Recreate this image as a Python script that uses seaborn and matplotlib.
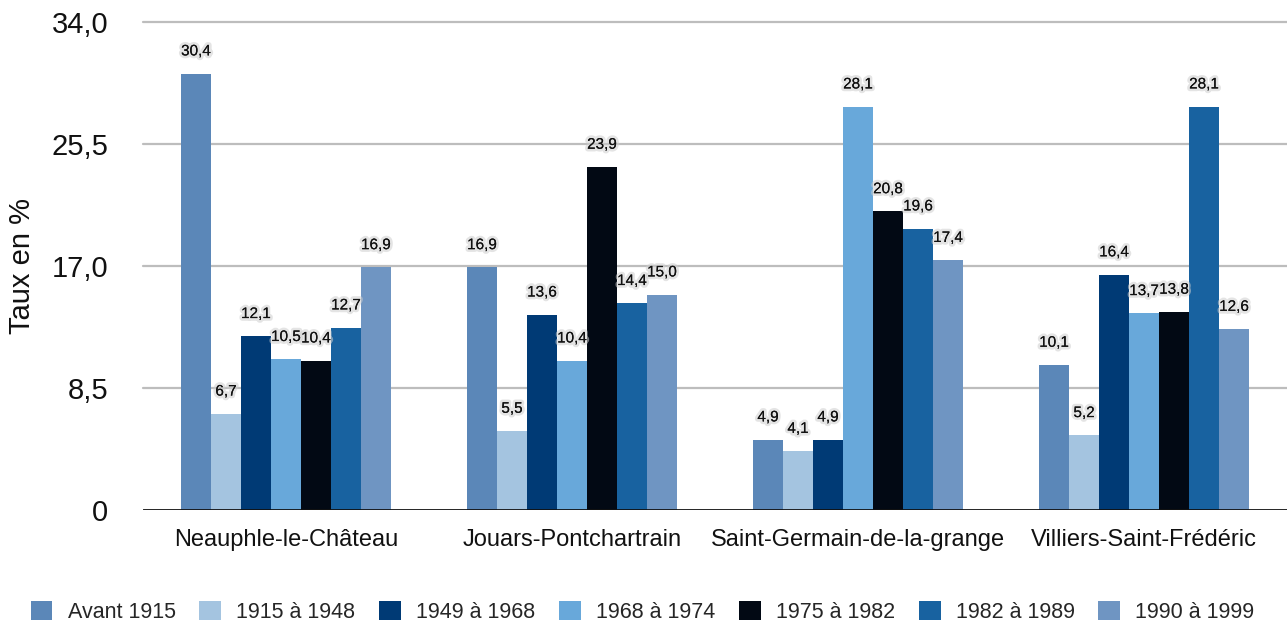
import matplotlib
matplotlib.use("Agg")
import matplotlib.pyplot as plt
import matplotlib.patheffects as pe
import seaborn as sns
import pandas as pd

communes = ["Neauphle-le-Château", "Jouars-Pontchartrain",
            "Saint-Germain-de-la-grange", "Villiers-Saint-Frédéric"]
periodes = ["Avant 1915", "1915 à 1948", "1949 à 1968", "1968 à 1974",
            "1975 à 1982", "1982 à 1989", "1990 à 1999"]
couleurs = ["#5B87B8", "#A4C4E0", "#003A75", "#68A8DA",
            "#020914", "#1862A0", "#6F95C2"]

neauphle = [30.4, 6.7, 12.1, 10.5, 10.4, 12.7, 16.9]
jouars = [16.9, 5.5, 13.6, 10.4, 23.9, 14.4, 15.0]
saint_germain = [4.9, 4.1, 4.9, 28.1, 20.8, 19.6, 17.4]
villiers = [10.1, 5.2, 16.4, 13.7, 13.8, 28.1, 12.6]

y_ticks = [0, 8.5, 17.0, 25.5, 34.0]
y_tick_labels = ["0", "8,5", "17,0", "25,5", "34,0"]

rows = []
for commune, vals in zip(communes, [neauphle, jouars, saint_germain, villiers]):
    for p, v in zip(periodes, vals):
        rows.append({"commune": commune, "periode": p, "taux": v})
df = pd.DataFrame(rows)

sns.set_theme(style="white")
plt.rcParams["font.family"] = ["Liberation Sans", "DejaVu Sans"]

fig = plt.figure(figsize=(12.87, 6.24), dpi=100)
ax = fig.add_axes([0.111, 0.1827, 0.889, 0.782])

sns.barplot(data=df, x="commune", y="taux", hue="periode",
            order=communes, hue_order=periodes, palette=couleurs,
            saturation=1, width=0.734, edgecolor="none", linewidth=0,
            legend=True, ax=ax, zorder=3)

ax.set_ylim(0, 34)
ax.set_xlim(-0.5, 3.5)
ax.set_yticks(y_ticks)
ax.set_yticklabels(y_tick_labels, fontsize=21, color="#111111")
ax.tick_params(axis="y", length=0, pad=25)
ax.tick_params(axis="x", length=0, labelsize=17, pad=14, colors="#111111")
for t in y_ticks[1:]:
    ax.axhline(t, color="#bdbdbd", linewidth=1.6, zorder=1, clip_on=False)
ax.axhline(0, color="#111111", linewidth=2, zorder=4)
for s in ax.spines.values():
    s.set_visible(False)
ax.set_xlabel("")
ax.set_ylabel("Taux en %", fontsize=21, color="#111111", labelpad=11)

effect = [pe.withStroke(linewidth=4, foreground="#cfcfcf", alpha=0.55), pe.Normal()]
for container in ax.containers:
    labels = [f"{b.get_height():.1f}".replace(".", ",") for b in container]
    texts = ax.bar_label(container, labels=labels, padding=11, fontsize=11,
                         color="#111111")
    for t in texts:
        t.set_path_effects(effect)

handles, labs = ax.get_legend_handles_labels()
ax.get_legend().remove()
fig.legend(handles, labs, loc="center", bbox_to_anchor=(0.4992, 0.019),
           ncol=7, frameon=False, fontsize=15.5, handlelength=1.02,
           handleheight=1.0, handletextpad=0.7, columnspacing=1.1,
           borderpad=0, borderaxespad=0)

fig.savefig("out.png", dpi=100)
